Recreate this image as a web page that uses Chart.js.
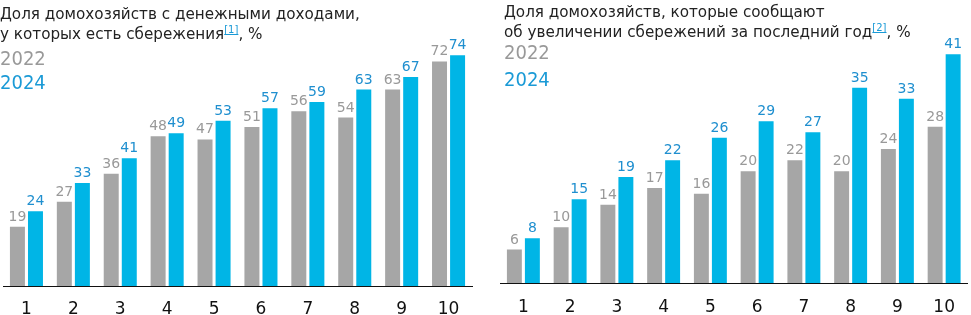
<!DOCTYPE html>
<html lang="ru">
<head>
<meta charset="utf-8">
<title>Сбережения домохозяйств</title>
<script src="https://cdn.jsdelivr.net/npm/chart.js@4.4.1/dist/chart.umd.min.js"></script>
<style>
  body { margin: 0; background: #fff; font-family: "DejaVu Sans", sans-serif; }
  #wrap { position: relative; width: 971px; height: 315px; overflow: hidden; }
  .box { position: absolute; top: 0; }
  .title { position: absolute; font-size: 15.2px; line-height: 20px; color: #222; white-space: nowrap; }
  .title sup { color: #1a9ad6; text-decoration: underline; font-size: 10px; vertical-align: baseline; position: relative; top: -0.6em; line-height: 0; }
  .yr { position: absolute; font-family: "DejaVu Sans Condensed", "DejaVu Sans", sans-serif; font-size: 20px; line-height: 24px; }
  .y22 { color: #999; }
  .y24 { color: #1a9ad6; }
</style>
</head>
<body>
<div id="wrap">
  <div class="box" style="left:0;width:476px;height:333px"><canvas id="savingsChart"></canvas></div>
  <div class="box" style="left:497px;width:474px;height:332px"><canvas id="growthChart"></canvas></div>

  <div class="title" style="left:0;top:4px">Доля домохозяйств с денежными доходами,<br>у которых есть сбережения<sup>[1]</sup>, %</div>
  <div class="yr y22" style="left:0;top:46px">2022</div>
  <div class="yr y24" style="left:0;top:70px">2024</div>

  <div class="title" style="left:504px;top:2px">Доля домохозяйств, которые сообщают<br>об увеличении сбережений за последний год<sup>[2]</sup>, %</div>
  <div class="yr y22" style="left:504px;top:40px">2022</div>
  <div class="yr y24" style="left:504px;top:67px">2024</div>
</div>

<script>
const groups = ['1', '2', '3', '4', '5', '6', '7', '8', '9', '10'];

const savings2022 = [19, 27, 36, 48, 47, 51, 56, 54, 63, 72];
const savings2024 = [24, 33, 41, 49, 53, 57, 59, 63, 67, 74];

const growth2022 = [6, 10, 14, 17, 16, 20, 22, 20, 24, 28];
const growth2024 = [8, 15, 19, 22, 26, 29, 27, 35, 33, 41];

const GRAY = '#a6a6a6';
const BLUE = '#00b5e6';
const labelColors = ['#999999', '#1f8fcf'];

// value labels above the bars
const valueLabels = {
    id: 'valueLabels',
    afterDatasetsDraw(chart) {
        const ctx = chart.ctx;
        ctx.save();
        ctx.font = '14px "DejaVu Sans"';
        ctx.textAlign = 'center';
        ctx.textBaseline = 'alphabetic';
        chart.data.datasets.forEach((ds, i) => {
            ctx.fillStyle = labelColors[i];
            chart.getDatasetMeta(i).data.forEach((bar, j) => {
                ctx.fillText(ds.data[j], bar.x, bar.y - 6);
            });
        });
        ctx.restore();
    }
};

function makeChart(id, a, b, yMax, pad) {
    const ctx = document.getElementById(id).getContext('2d');
    return new Chart(ctx, {
        type: 'bar',
        data: {
            labels: groups,
            datasets: [
                { label: '2022', data: a, backgroundColor: GRAY },
                { label: '2024', data: b, backgroundColor: BLUE }
            ]
        },
        options: {
            responsive: true,
            maintainAspectRatio: false,
            animation: false,
            categoryPercentage: 0.77,
            barPercentage: 0.83,
            layout: { padding: pad },
            plugins: {
                legend: { display: false },
                tooltip: { enabled: false }
            },
            scales: {
                y: { display: false, min: 0, max: yMax },
                x: {
                    grid: { display: false, drawTicks: false },
                    border: { display: true, color: '#111', width: 1 },
                    ticks: {
                        color: '#111',
                        padding: pad.tickPad,
                        font: { family: 'DejaVu Sans', size: 17, lineHeight: 1 }
                    }
                }
            }
        },
        plugins: [valueLabels]
    });
}

makeChart('savingsChart', savings2022, savings2024, 91.7, { left: 3, right: 4, top: 0, bottom: 0, tickPad: 15 });
makeChart('growthChart', growth2022, growth2024, 50.7, { left: 3, right: 1, top: 0, bottom: 0, tickPad: 16 });
</script>
</body>
</html>
